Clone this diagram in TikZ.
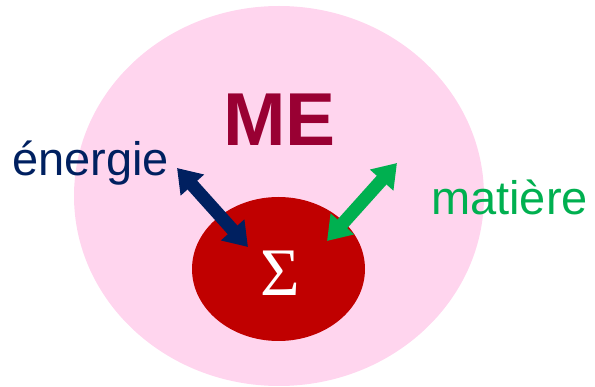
\documentclass[tikz,border=0pt]{standalone}
\usepackage{fontspec}
\setmainfont{Liberation Sans}
\newfontfamily\serifSigma{Liberation Serif}
\usetikzlibrary{shapes.geometric,arrows.meta}
\definecolor{pinkbg}{RGB}{255,213,238}
\definecolor{mered}{RGB}{153,0,51}
\definecolor{sysred}{RGB}{192,0,0}
\definecolor{navy}{RGB}{0,32,96}
\definecolor{mgreen}{RGB}{0,176,80}
\tikzset{
  blob/.style={ellipse, inner sep=0pt, draw=none},
  label text/.style={font=\fontsize{47}{47}\selectfont, anchor=base west, inner sep=0pt},
  bigarrow/.style={line width=13pt, {Triangle[width=30pt,length=23pt]}-{Triangle[width=30pt,length=23pt]}}
}
\begin{document}
\begin{tikzpicture}[x=1pt,y=-1pt]
\useasboundingbox (0,0) rectangle (595,387);
\node[blob, fill=pinkbg, minimum width=410pt, minimum height=380pt] (env) at (279,196) {};
\node[blob, fill=sysred, minimum width=173pt, minimum height=144pt] (sys) at (278.5,269) {};
\node[font=\fontsize{75}{75}\selectfont\bfseries, text=mered, anchor=base, inner sep=0pt] (me) at (279.5,146) {ME};
\node[font=\serifSigma\fontsize{68}{68}\selectfont, text=white, anchor=base, inner sep=0pt] (sigma) at (280,296) {Σ};
\node[label text, text=navy] (energie) at (12,176) {énergie};
\node[label text, text=mgreen] (matiere) at (431,215) {matière};
\coordinate (e1) at (177,168);
\coordinate (e2) at (248,247);
\coordinate (m1) at (397,163);
\coordinate (m2) at (327,241);
\draw[bigarrow, draw=navy, fill=navy] (e1) -- (e2);
\draw[bigarrow, draw=mgreen, fill=mgreen] (m1) -- (m2);
\end{tikzpicture}
\end{document}
